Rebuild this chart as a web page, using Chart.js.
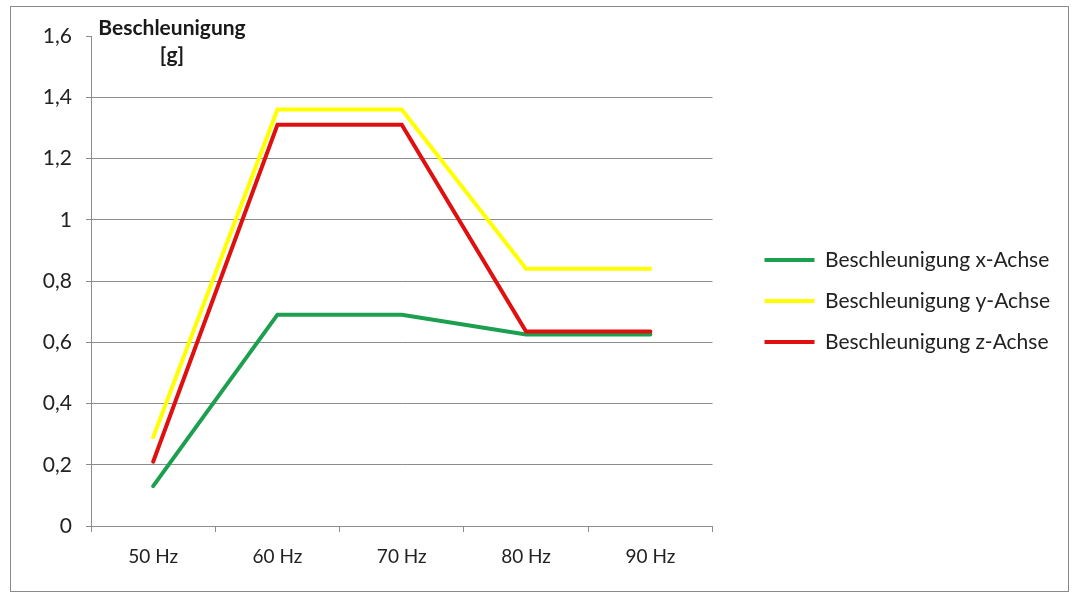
<!DOCTYPE html>
<html>
<head>
<meta charset="utf-8">
<script src="https://cdn.jsdelivr.net/npm/chart.js@4/dist/chart.umd.min.js"></script>
<style>
  html, body { margin: 0; padding: 0; background: #fff; }
  #wrap { position: relative; width: 1072px; height: 592px; }
  #frame { position: absolute; left: 10px; top: 6px; width: 1057px; height: 584px; border: 1px solid #8a8a8a; pointer-events: none; }
  canvas { position: absolute; left: 0; top: 0; }
</style>
</head>
<body>
<div id="wrap">
  <canvas id="chart" width="1072" height="592"></canvas>
  <div id="frame"></div>
</div>
<script>
const frequencies = ["50 Hz", "60 Hz", "70 Hz", "80 Hz", "90 Hz"];
const accelX = [0.13, 0.69, 0.69, 0.625, 0.625];
const accelY = [0.29, 1.36, 1.36, 0.84, 0.84];
const accelZ = [0.21, 1.31, 1.31, 0.635, 0.635];
const yTickLabels = ["0", "0,2", "0,4", "0,6", "0,8", "1", "1,2", "1,4", "1,6"];
const axisTitle = ["Beschleunigung", "[g]"];

const FONT = "Lato, 'Open Sans', sans-serif";
const GRID = "#8c8c8c";

// Excel-style horizontal axis title at the top left of the plot
const axisTitlePlugin = {
  id: "axisTitle",
  afterDraw(chart) {
    const { ctx, chartArea } = chart;
    ctx.save();
    ctx.font = "bold 21px " + FONT;
    ctx.fillStyle = "#1a1a1a";
    ctx.textAlign = "center";
    ctx.textBaseline = "middle";
    ctx.fillText(axisTitle[0], chartArea.left + 81, chartArea.top - 8);
    ctx.fillText(axisTitle[1], chartArea.left + 81, chartArea.top + 19);
    ctx.restore();
  },
};

const ctx = document.getElementById("chart").getContext("2d");

new Chart(ctx, {
  type: "line",
  data: {
    labels: frequencies,
    datasets: [
      {
        label: "Beschleunigung x-Achse",
        data: accelX,
        borderColor: "#1c9f4f",
        backgroundColor: "#1c9f4f",
        order: 3,
      },
      {
        label: "Beschleunigung y-Achse",
        data: accelY,
        borderColor: "#ffff00",
        backgroundColor: "#ffff00",
        order: 2,
      },
      {
        label: "Beschleunigung z-Achse",
        data: accelZ,
        borderColor: "#e01010",
        backgroundColor: "#e01010",
        order: 1,
      },
    ],
  },
  options: {
    responsive: false,
    animation: false,
    elements: {
      line: { borderWidth: 4, tension: 0, borderCapStyle: "round" },
      point: { radius: 0, hoverRadius: 0, borderWidth: 4 },
    },
    layout: { padding: { top: 36, bottom: 26, left: 0, right: 12 } },
    scales: {
      x: {
        offset: true,
        grid: { display: true, drawOnChartArea: false, offset: true, tickLength: 6, color: GRID },
        border: { display: true, color: GRID },
        ticks: { color: "#222", font: { family: FONT, size: 19 }, padding: 13 },
        afterFit: (s) => { s.height = 40; },
      },
      y: {
        min: 0,
        max: 1.6,
        grid: {
          color: (c) => (c.tick && c.tick.value > 1.55 ? "rgba(0,0,0,0)" : GRID),
          tickColor: GRID,
          tickLength: 5,
        },
        border: { display: true, color: GRID },
        ticks: {
          stepSize: 0.2,
          color: "#222",
          font: { family: FONT, size: 21 },
          padding: 14,
          callback: (v, i) => yTickLabels[i],
        },
        afterFit: (s) => { s.width = 91; },
      },
      // empty spacer between the plot and the legend
      gap: {
        position: "right",
        display: true,
        grid: { display: false },
        border: { display: false },
        ticks: { display: false },
        afterFit: (s) => { s.width = 32; },
      },
    },
    plugins: {
      legend: {
        position: "right",
        maxWidth: 340,
        labels: {
          usePointStyle: true,
          pointStyle: "line",
          pointStyleWidth: 50,
          padding: 20,
          color: "#222",
          font: { family: FONT, size: 21 },
          sort: (a, b) => a.datasetIndex - b.datasetIndex,
        },
      },
      tooltip: { enabled: false },
    },
  },
  plugins: [axisTitlePlugin],
});
</script>
</body>
</html>
